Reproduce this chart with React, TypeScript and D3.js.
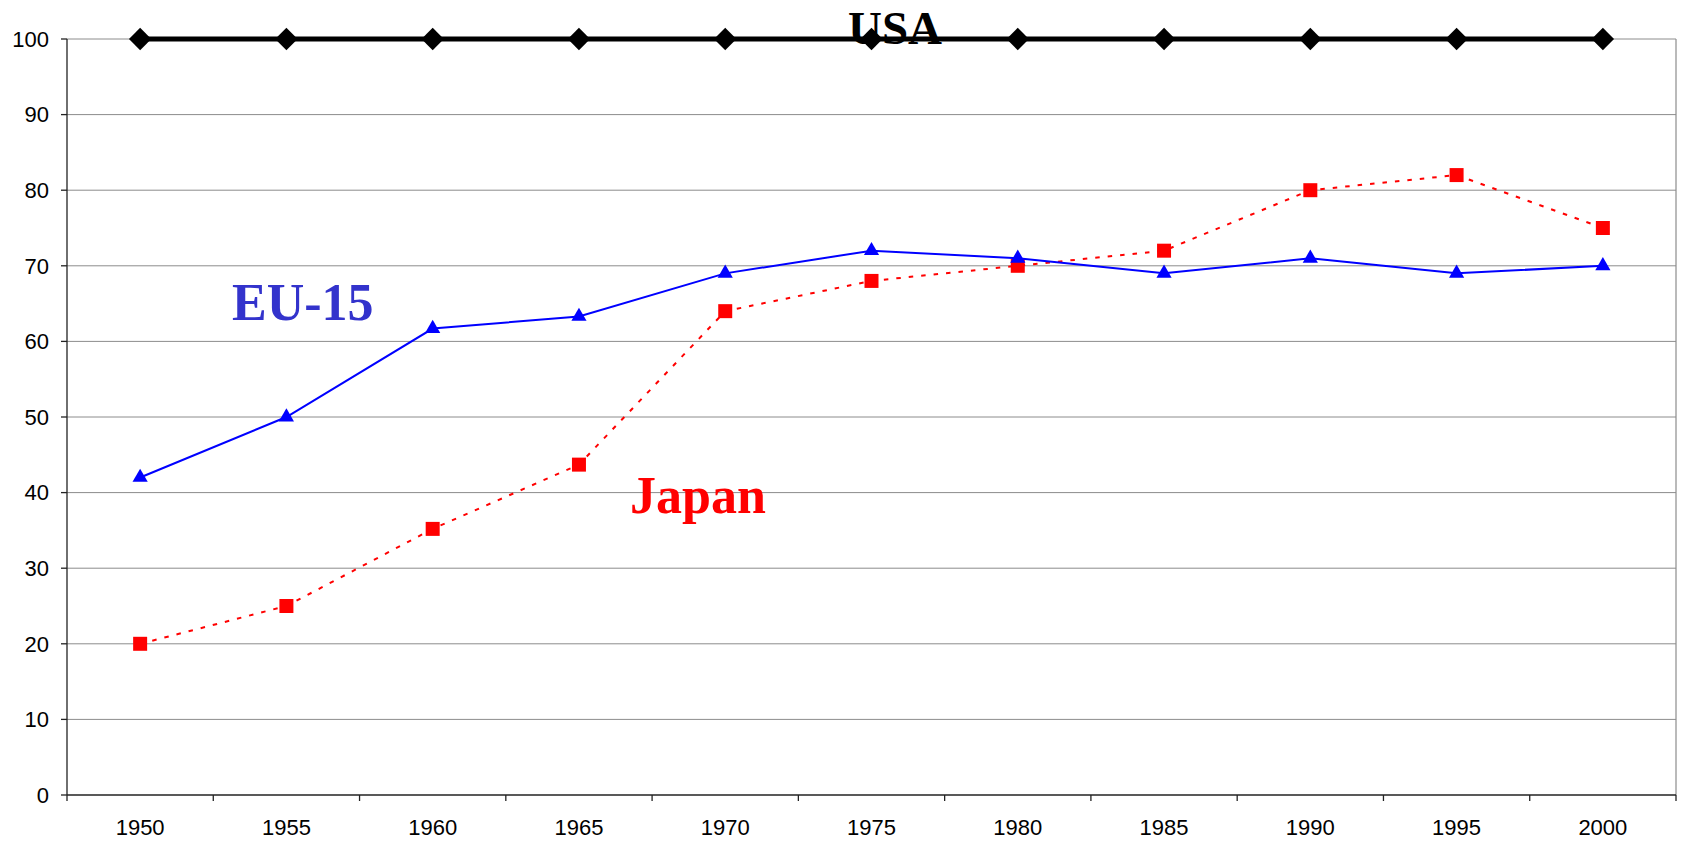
import React from 'react';
import * as d3 from 'd3';

const years = ['1950', '1955', '1960', '1965', '1970', '1975', '1980', '1985', '1990', '1995', '2000'];
const usa = [100, 100, 100, 100, 100, 100, 100, 100, 100, 100, 100];
const eu15 = [42, 50, 61.7, 63.3, 69, 72, 71, 69, 71, 69, 70];
const japan = [20, 25, 35.2, 43.7, 64, 68, 70, 72, 80, 82, 75];
const yTicks = [0, 10, 20, 30, 40, 50, 60, 70, 80, 90, 100];

const W = 1681;
const H = 842;
const margin = { top: 39, right: 5, bottom: 47, left: 67 };

export default function App() {
  const x = d3.scaleBand<string>()
    .domain(years)
    .range([margin.left, W - margin.right]);
  const y = d3.scaleLinear()
    .domain([0, 100])
    .range([H - margin.bottom, margin.top]);

  const cx = (d: string) => (x(d) as number) + x.bandwidth() / 2;

  const line = d3.line<number>()
    .x((_, i) => cx(years[i]))
    .y(d => y(d));

  const diamond = d3.symbol(d3.symbolSquare, 250)();
  const square = d3.symbol(d3.symbolSquare, 196)();
  const triangle = d3.symbol(d3.symbolTriangle, 100)();

  const left = margin.left;
  const right = W - margin.right;
  const bottom = y(0);
  const boundaries = years.map(d => x(d) as number).concat([right]);

  return (
    <svg width={W} height={H} style={{ position: 'absolute', left: 0, top: 0, background: '#fff' }}>
      {/* grid */}
      {yTicks.filter(t => t > 0).map(t => (
        <line key={t} x1={left} x2={right} y1={y(t)} y2={y(t)} stroke="#8c8c8c" strokeWidth={1} />
      ))}
      <line x1={right} x2={right} y1={y(100)} y2={bottom} stroke="#8c8c8c" strokeWidth={1.2} />

      {/* axes */}
      <line x1={left} x2={left} y1={y(100)} y2={bottom} stroke="#222" strokeWidth={1.3} />
      <line x1={left} x2={right} y1={bottom} y2={bottom} stroke="#222" strokeWidth={1.3} />
      {yTicks.map(t => (
        <g key={t}>
          <line x1={left - 6} x2={left} y1={y(t)} y2={y(t)} stroke="#222" strokeWidth={1.3} />
          <text x={left - 18} y={y(t)} dy="0.35em" textAnchor="end"
            fontFamily="Arial, 'Liberation Sans', sans-serif" fontSize={22} fill="#000">{t}</text>
        </g>
      ))}
      {boundaries.map((b, i) => (
        <line key={i} x1={b} x2={b} y1={bottom} y2={bottom + 6} stroke="#222" strokeWidth={1.3} />
      ))}
      {years.map(d => (
        <text key={d} x={cx(d)} y={bottom + 40} textAnchor="middle"
          fontFamily="Arial, 'Liberation Sans', sans-serif" fontSize={22} fill="#000">{d}</text>
      ))}

      {/* Japan */}
      <path d={line(japan) as string} fill="none" stroke="#ff0000" strokeWidth={2} strokeDasharray="4.5 8" />
      {japan.map((v, i) => (
        <path key={i} d={square as string} transform={`translate(${cx(years[i])},${y(v)})`} fill="#ff0000" />
      ))}

      {/* EU-15 */}
      <path d={line(eu15) as string} fill="none" stroke="#0000ff" strokeWidth={2} />
      {eu15.map((v, i) => (
        <path key={i} d={triangle as string} transform={`translate(${cx(years[i])},${y(v)})`} fill="#0000ff" />
      ))}

      {/* USA */}
      <path d={line(usa) as string} fill="none" stroke="#000" strokeWidth={5} />
      {usa.map((v, i) => (
        <path key={i} d={diamond as string} transform={`translate(${cx(years[i])},${y(v)}) rotate(45)`} fill="#000" />
      ))}

      {/* series labels */}
      <text x={895} y={44} textAnchor="middle" fontFamily="'Times New Roman', 'Liberation Serif', serif"
        fontWeight="bold" fontSize={47} fill="#000">USA</text>
      <text x={232} y={320} fontFamily="'Times New Roman', 'Liberation Serif', serif"
        fontWeight="bold" fontSize={52} fill="#3333cc">EU-15</text>
      <text x={630} y={513} fontFamily="'Times New Roman', 'Liberation Serif', serif"
        fontWeight="bold" fontSize={52} fill="#ff0000">Japan</text>
    </svg>
  );
}
